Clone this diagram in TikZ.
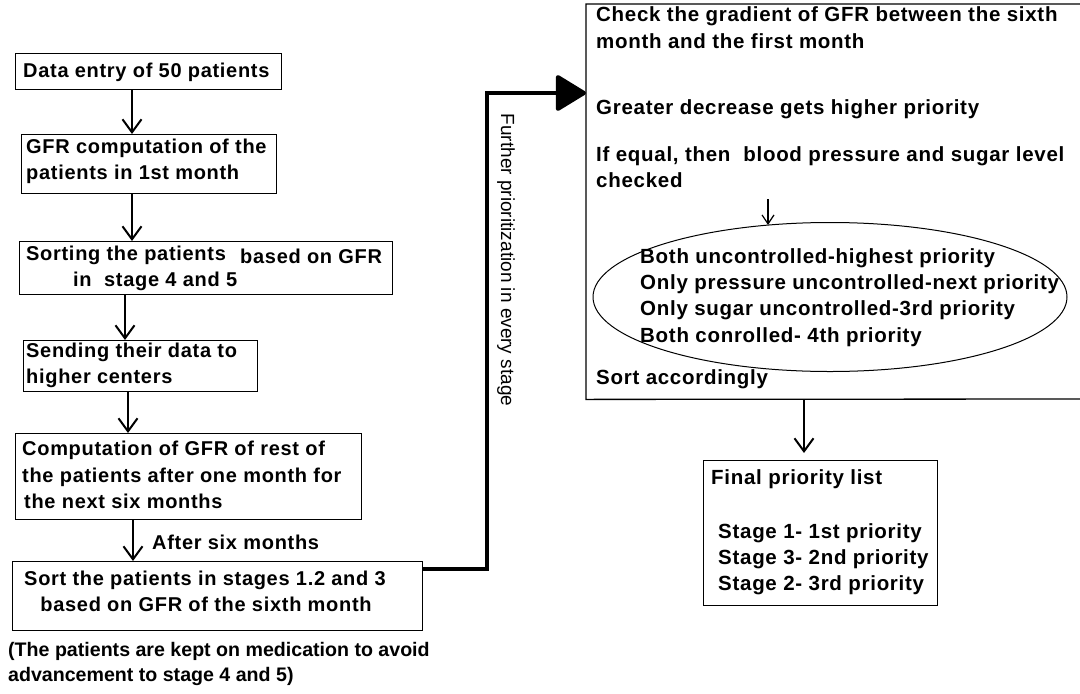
\documentclass[tikz,border=0pt]{standalone}
\usepackage{fontspec}
\setmainfont{Liberation Sans}
\newfontfamily\bx{Liberation Sans}[LetterSpace=3.5]
\newfontfamily\nt{Liberation Sans}
\usetikzlibrary{arrows.meta,shapes.geometric,calc}
\begin{document}
\begin{tikzpicture}[x=1pt,y=-1pt,
  ln/.style={anchor=base west,inner sep=0pt,font=\bx\bfseries\fontsize{20}{26}\selectfont},
  rln/.style={anchor=base west,inner sep=0pt,font=\bx\bfseries\fontsize{20.5}{26}\selectfont},
  cln/.style={ln,anchor=base},
  stepbox/.style={draw,line width=1.3pt,anchor=north west,inner sep=0pt},
  arr/.style={line width=2pt,-{Straight Barb[length=13pt,width=19pt,line width=2pt]}},
  thinarr/.style={line width=1.2pt,-{Straight Barb[length=9pt,width=12pt,line width=1.2pt]}},
  bigarr/.style={line width=4pt,-{Triangle[length=32pt,width=38pt,round]}}]
\useasboundingbox (0,0) rectangle (1080,694);
\fill[white] (0,0) rectangle (1080,694);

% left column boxes
\node[stepbox,minimum width=266pt,minimum height=36pt] (b1) at (15,53) {};
\node[stepbox,minimum width=255pt,minimum height=59pt] (b2) at (21,134) {};
\node[stepbox,minimum width=373pt,minimum height=53pt] (b3) at (19,241) {};
\node[stepbox,minimum width=234pt,minimum height=51pt] (b4) at (23,340) {};
\node[stepbox,minimum width=346pt,minimum height=86pt] (b5) at (15,433) {};
\node[stepbox,minimum width=410pt,minimum height=69pt] (b6) at (12,561) {};

\node[ln] (l1) at (23,77) {Data entry of 50 patients};
\node[ln] (l2a) at (26,153) {GFR computation of the};
\node[ln] (l2b) at (26,179) {patients in 1st month};
\node[ln] (l3a) at (26,260) {Sorting the patients};
\node[ln] (l3b) at (240,263) {based on GFR};
\node[ln] (l3c) at (73,286) {in\ \ stage 4 and 5};
\node[ln] (l4a) at (26,357) {Sending their data to};
\node[ln] (l4b) at (26,383) {higher centers};
\node[ln] (l5a) at (22,455) {Computation of GFR of rest of};
\node[ln] (l5b) at (22,482) {the patients after one month for};
\node[ln] (l5c) at (24,508) {the next six months};
\node[cln] (l6a) at (205,585) {Sort the patients in stages 1.2 and 3};
\node[cln] (l6b) at (206,611) {based on GFR of the sixth month};

\draw[arr] (132,0 |- b1.south) -- (132,0 |- b2.north);
\draw[arr] (132,0 |- b2.south) -- (132,0 |- b3.north);
\draw[arr] (125,0 |- b3.south) -- (125,0 |- b4.north);
\draw[arr] (128,0 |- b4.south) -- (128,0 |- b5.north);
\draw[arr] (133,0 |- b5.south) -- (133,0 |- b6.north);
\node[ln] (after) at (152,549) {After six months};

\node[anchor=base west,inner sep=0pt,font=\nt\bfseries\fontsize{19.6}{25}\selectfont] (note1) at (8,656) {(The patients are kept on medication to avoid};
\node[anchor=base west,inner sep=0pt,font=\nt\bfseries\fontsize{19.6}{25}\selectfont] (note2) at (8,681) {advancement to stage 4 and 5)};

% big connector
\node[draw=none,anchor=north west,minimum width=500pt,minimum height=395pt,inner sep=0pt] (check) at (586,4) {};
\draw[line width=1.3pt] (1082,4) -- (check.north west) -- (check.south west) -- (1082,399);
\coordinate (j0) at ($(b6.north east)+(0,8)$);
\coordinate (j1) at (487,0 |- j0);
\coordinate (j2) at (487,93);
\draw[bigarr] (j0) -- (j1) -- (j2) -- (check.west |- j2);
\node[font=\nt\fontsize{19}{22}\selectfont,rotate=-90] (further) at (506,260) {Further prioritization in every stage};

% right box texts
\node[rln] (t1) at (596,21) {Check the gradient of GFR between the sixth};
\node[rln] (t1b) at (596,48) {month and the first month};
\node[rln] (t2) at (596,114) {Greater decrease gets higher priority};
\node[rln] (t3) at (596,161) {If equal, then\ \ blood pressure and sugar level};
\node[rln] (t3b) at (596,187) {checked};
\node[draw,line width=1pt,ellipse,minimum width=474pt,minimum height=149pt] (cond) at (830,297) {};
\node[rln] (e1) at (640,263) {Both uncontrolled-highest priority};
\node[rln] (e2) at (640,289) {Only pressure uncontrolled-next priority};
\node[rln] (e3) at (640,315) {Only sugar uncontrolled-3rd priority};
\node[rln] (e4) at (640,342) {Both conrolled- 4th priority};
\coordinate (c0) at (768,199);
\draw[thinarr] (c0) -- (768,225);
\node[rln] (sortacc) at (596,384) {Sort accordingly};

% final box
\node[stepbox,minimum width=234pt,minimum height=145pt] (final) at (703,460) {};
\node[rln] (f1) at (711,484) {Final priority list};
\node[rln] (f2) at (718,538) {Stage 1- 1st priority};
\node[rln] (f3) at (718,564) {Stage 3- 2nd priority};
\node[rln] (f4) at (718,590) {Stage 2- 3rd priority};
\draw[arr,shorten >=7pt] (804,0 |- check.south) -- (804,0 |- final.north);
\end{tikzpicture}
\end{document}
